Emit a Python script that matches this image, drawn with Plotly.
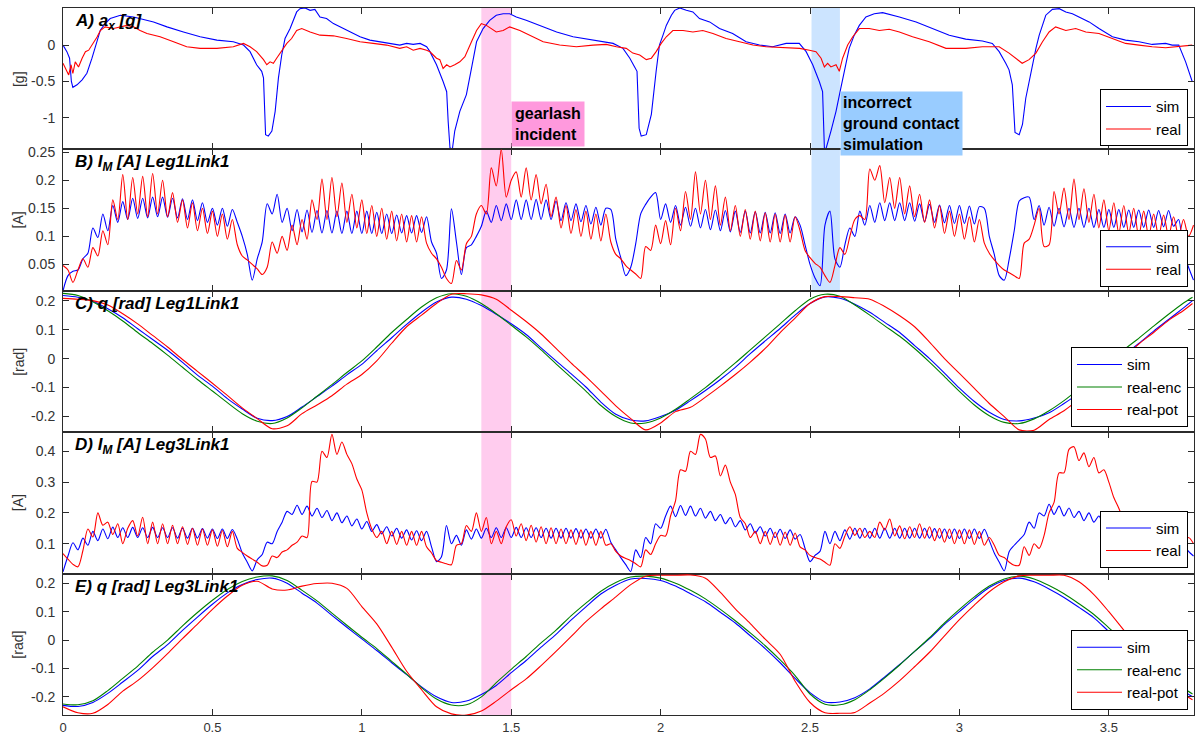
import numpy as np
import plotly.graph_objects as go
from plotly.subplots import make_subplots

# ---------------------------------------------------------------- time bases
FS_CURRENT = 60.0                                            # samples/s of the motor-current traces
T_ANGLE = [round(0.05 * i, 2) for i in range(76)] + [3.78]   # joint-angle sample times [s]

# ---------------------------------------------------------------- A) a_x [g]  (t, value)
AX_SIM = [
    (0, 0.0), (0.013, -0.09), (0.022, -0.18), (0.028, -0.5), (0.033, -0.58), (0.047, -0.545),
    (0.064, -0.477), (0.08, -0.386), (0.097, -0.18), (0.114, 0.045), (0.125, 0.205), (0.141, 0.295),
    (0.158, 0.364), (0.192, 0.41), (0.236, 0.386), (0.303, 0.318), (0.348, 0.25), (0.403, 0.18),
    (0.459, 0.114), (0.515, 0.068), (0.57, 0.045), (0.604, 0.0), (0.626, -0.09), (0.648, -0.27),
    (0.665, -0.36), (0.671, -0.45), (0.674, -0.82), (0.678, -1.23), (0.687, -1.25), (0.699, -1.18),
    (0.71, -0.91), (0.721, -0.45), (0.732, -0.136), (0.743, 0.09), (0.76, 0.227), (0.771, 0.34),
    (0.782, 0.455), (0.793, 0.5), (0.81, 0.51), (0.827, 0.477), (0.843, 0.49), (0.86, 0.386),
    (0.882, 0.364), (0.905, 0.295), (0.96, 0.18), (0.994, 0.114), (1.027, 0.068), (1.072, 0.036),
    (1.127, 0.0), (1.15, 0.023), (1.172, 0.01), (1.195, 0.023), (1.217, -0.023), (1.228, -0.09),
    (1.25, -0.27), (1.272, -0.5), (1.284, -0.64), (1.289, -1.05), (1.295, -1.41), (1.303, -1.43),
    (1.311, -1.18), (1.328, -0.91), (1.35, -0.68), (1.367, -0.32), (1.384, 0.045), (1.406, 0.227),
    (1.428, 0.34), (1.45, 0.41), (1.473, 0.43), (1.495, 0.43), (1.517, 0.386), (1.55, 0.34),
    (1.595, 0.27), (1.652, 0.18), (1.707, 0.114), (1.774, 0.068), (1.841, 0.023), (1.874, -0.045),
    (1.897, -0.18), (1.913, -0.3), (1.921, -0.36), (1.928, -1.14), (1.935, -1.25), (1.952, -1.23),
    (1.969, -0.95), (1.985, -0.36), (1.996, 0.0), (2.008, 0.136), (2.019, 0.27), (2.036, 0.41),
    (2.047, 0.477), (2.064, 0.51), (2.086, 0.477), (2.108, 0.455), (2.13, 0.364), (2.164, 0.318),
    (2.197, 0.227), (2.241, 0.16), (2.286, 0.045), (2.331, 0.0), (2.375, -0.023), (2.42, 0.023),
    (2.464, 0.023), (2.487, -0.09), (2.509, -0.27), (2.531, -0.5), (2.542, -0.64), (2.548, -1.41),
    (2.553, -1.43), (2.57, -1.18), (2.587, -0.91), (2.603, -0.59), (2.62, -0.27), (2.631, -0.045),
    (2.648, 0.136), (2.665, 0.27), (2.687, 0.386), (2.715, 0.43), (2.743, 0.445), (2.765, 0.418),
    (2.799, 0.386), (2.855, 0.318), (2.91, 0.227), (2.966, 0.136), (3.021, 0.082), (3.077, 0.055),
    (3.11, 0.023), (3.133, -0.09), (3.155, -0.25), (3.166, -0.34), (3.177, -0.545), (3.186, -1.2),
    (3.2, -1.23), (3.211, -1.09), (3.222, -0.73), (3.239, -0.36), (3.256, -0.045), (3.267, 0.136),
    (3.278, 0.27), (3.289, 0.41), (3.311, 0.49), (3.334, 0.5), (3.356, 0.455), (3.378, 0.43),
    (3.4, 0.386), (3.434, 0.318), (3.467, 0.227), (3.512, 0.114), (3.556, 0.068), (3.601, 0.045),
    (3.645, 0.009), (3.69, 0.023), (3.712, 0.0), (3.734, 0.0), (3.757, -0.23), (3.779, -0.5),
]
AX_REAL = [
    (0, -0.25), (0.013, -0.36), (0.019, -0.41), (0.027, -0.27), (0.033, -0.39), (0.041, -0.23),
    (0.052, -0.3), (0.064, -0.18), (0.075, -0.09), (0.086, -0.07), (0.097, 0.0), (0.114, 0.11),
    (0.125, 0.2), (0.141, 0.25), (0.169, 0.227), (0.192, 0.25), (0.214, 0.27), (0.236, 0.25),
    (0.258, 0.2), (0.281, 0.16), (0.325, 0.114), (0.37, 0.045), (0.414, -0.023), (0.459, -0.045),
    (0.515, -0.045), (0.57, -0.023), (0.604, 0.023), (0.626, -0.023), (0.648, -0.09), (0.671, -0.2),
    (0.682, -0.27), (0.693, -0.23), (0.704, -0.25), (0.715, -0.18), (0.726, -0.11), (0.737, -0.045),
    (0.749, 0.023), (0.765, 0.09), (0.782, 0.2), (0.799, 0.227), (0.827, 0.18), (0.86, 0.136),
    (0.905, 0.127), (0.949, 0.09), (0.994, 0.045), (1.038, 0.023), (1.083, 0.0), (1.127, -0.045),
    (1.15, -0.023), (1.172, -0.07), (1.195, -0.045), (1.217, -0.07), (1.228, -0.09), (1.239, -0.136),
    (1.25, -0.18), (1.261, -0.2), (1.272, -0.32), (1.284, -0.27), (1.295, -0.3), (1.311, -0.27),
    (1.328, -0.23), (1.345, -0.16), (1.356, -0.045), (1.367, 0.045), (1.384, 0.2), (1.4, 0.295),
    (1.417, 0.27), (1.434, 0.227), (1.45, 0.18), (1.473, 0.2), (1.495, 0.25), (1.529, 0.2),
    (1.562, 0.136), (1.607, 0.045), (1.662, 0.0), (1.718, -0.023), (1.774, 0.0), (1.818, 0.01),
    (1.852, -0.023), (1.885, -0.045), (1.907, -0.11), (1.93, -0.136), (1.952, -0.2), (1.969, -0.18),
    (1.985, -0.09), (2.002, 0.023), (2.019, 0.114), (2.041, 0.2), (2.075, 0.2), (2.108, 0.18),
    (2.141, 0.2), (2.175, 0.16), (2.219, 0.09), (2.264, 0.045), (2.309, 0.0), (2.353, -0.023),
    (2.409, -0.036), (2.465, -0.045), (2.498, -0.07), (2.52, -0.09), (2.537, -0.18), (2.548, -0.3),
    (2.559, -0.25), (2.57, -0.3), (2.587, -0.27), (2.598, -0.36), (2.609, -0.18), (2.626, 0.0),
    (2.643, 0.114), (2.665, 0.227), (2.698, 0.227), (2.732, 0.2), (2.765, 0.218), (2.799, 0.18),
    (2.843, 0.114), (2.899, 0.045), (2.955, -0.045), (3.021, -0.045), (3.077, -0.023), (3.133, -0.023),
    (3.166, -0.11), (3.188, -0.18), (3.21, -0.25), (3.233, -0.2), (3.256, -0.11), (3.278, 0.045),
    (3.3, 0.18), (3.322, 0.25), (3.356, 0.2), (3.389, 0.227), (3.423, 0.18), (3.467, 0.16),
    (3.512, 0.09), (3.556, 0.023), (3.601, 0.0), (3.645, -0.023), (3.69, -0.036), (3.734, -0.023),
    (3.779, 0.0),
]

# ---------------------------------------------------------------- B) I_M [A] Leg1Link1 (60 Hz samples)
IM1_SIM = [
    0.003, 0.03, 0.038, 0.04, 0.06, 0.07, 0.115, 0.098, 0.14, 0.11, 0.155, 0.125, 0.162, 0.13, 0.168,
    0.132, 0.168, 0.133, 0.17, 0.135, 0.17, 0.134, 0.168, 0.133, 0.167, 0.13, 0.165, 0.128, 0.16, 0.125,
    0.15, 0.12, 0.15, 0.118, 0.148, 0.125, 0.1, 0.068, 0.022, 0.06, 0.09, 0.158, 0.14, 0.175, 0.125,
    0.15, 0.11, 0.148, 0.108, 0.147, 0.107, 0.146, 0.106, 0.146, 0.106, 0.145, 0.105, 0.145, 0.105, 0.145,
    0.105, 0.145, 0.105, 0.143, 0.105, 0.14, 0.105, 0.138, 0.106, 0.137, 0.106, 0.137, 0.107, 0.135, 0.09,
    0.07, 0.025, 0.04, 0.149, 0.09, 0.032, 0.08, 0.085, 0.1, 0.118, 0.145, 0.125, 0.155, 0.128, 0.158,
    0.13, 0.165, 0.13, 0.165, 0.13, 0.166, 0.13, 0.165, 0.13, 0.163, 0.128, 0.16, 0.128, 0.158, 0.126,
    0.155, 0.122, 0.152, 0.12, 0.15, 0.148, 0.095, 0.062, 0.03, 0.045, 0.087, 0.14, 0.157, 0.17, 0.178,
    0.13, 0.158, 0.125, 0.155, 0.12, 0.152, 0.118, 0.15, 0.115, 0.148, 0.112, 0.147, 0.11, 0.146, 0.108,
    0.145, 0.107, 0.145, 0.106, 0.144, 0.106, 0.143, 0.106, 0.142, 0.105, 0.14, 0.106, 0.135, 0.12, 0.085,
    0.05, 0.026, 0.012, 0.12, 0.145, 0.06, 0.045, 0.085, 0.115, 0.1, 0.145, 0.12, 0.155, 0.125, 0.16,
    0.128, 0.16, 0.128, 0.16, 0.128, 0.16, 0.127, 0.158, 0.126, 0.157, 0.125, 0.156, 0.124, 0.155, 0.123,
    0.155, 0.123, 0.154, 0.122, 0.153, 0.15, 0.1, 0.068, 0.03, 0.022, 0.06, 0.11, 0.163, 0.169, 0.17,
    0.13, 0.155, 0.12, 0.152, 0.118, 0.15, 0.117, 0.15, 0.116, 0.15, 0.116, 0.15, 0.116, 0.148, 0.116,
    0.148, 0.116, 0.148, 0.116, 0.147, 0.116, 0.147, 0.116, 0.147, 0.116, 0.146, 0.117, 0.146, 0.118, 0.13,
    0.07, 0.045, 0.022,
]
IM1_REAL = [
    0.048, 0.04, 0.018, 0.04, 0.06, 0.045, 0.08, 0.065, 0.11, 0.085, 0.165, 0.13, 0.21, 0.13, 0.205,
    0.14, 0.207, 0.135, 0.212, 0.14, 0.2, 0.135, 0.178, 0.125, 0.165, 0.115, 0.16, 0.11, 0.15, 0.105,
    0.145, 0.1, 0.14, 0.095, 0.13, 0.085, 0.065, 0.058, 0.05, 0.042, 0.032, 0.045, 0.09, 0.07, 0.1,
    0.075, 0.12, 0.085, 0.13, 0.095, 0.165, 0.13, 0.202, 0.13, 0.205, 0.135, 0.195, 0.125, 0.175, 0.115,
    0.165, 0.105, 0.155, 0.1, 0.15, 0.095, 0.145, 0.092, 0.14, 0.09, 0.137, 0.09, 0.135, 0.088, 0.07,
    0.06, 0.045, 0.025, 0.016, 0.057, 0.04, 0.087, 0.1, 0.14, 0.155, 0.14, 0.222, 0.19, 0.255, 0.17,
    0.2, 0.215, 0.17, 0.222, 0.165, 0.21, 0.158, 0.193, 0.135, 0.17, 0.115, 0.155, 0.105, 0.148, 0.1,
    0.145, 0.095, 0.14, 0.092, 0.14, 0.09, 0.068, 0.06, 0.048, 0.04, 0.033, 0.025, 0.082, 0.075, 0.12,
    0.087, 0.128, 0.085, 0.15, 0.11, 0.18, 0.13, 0.215, 0.14, 0.2, 0.13, 0.19, 0.12, 0.17, 0.11,
    0.155, 0.1, 0.148, 0.095, 0.145, 0.092, 0.142, 0.09, 0.14, 0.09, 0.138, 0.09, 0.135, 0.11, 0.075,
    0.062, 0.052, 0.045, 0.03, 0.018, 0.048, 0.08, 0.068, 0.1, 0.13, 0.137, 0.13, 0.22, 0.2, 0.226,
    0.16, 0.205, 0.15, 0.205, 0.14, 0.19, 0.135, 0.175, 0.125, 0.165, 0.115, 0.155, 0.105, 0.145, 0.1,
    0.14, 0.095, 0.135, 0.09, 0.13, 0.088, 0.07, 0.058, 0.048, 0.04, 0.035, 0.03, 0.025, 0.088, 0.095,
    0.12, 0.15, 0.082, 0.085, 0.18, 0.14, 0.186, 0.13, 0.202, 0.13, 0.185, 0.125, 0.175, 0.115, 0.165,
    0.11, 0.16, 0.105, 0.155, 0.105, 0.15, 0.1, 0.145, 0.1, 0.14, 0.1, 0.138, 0.1, 0.135, 0.1,
    0.13, 0.1, 0.12,
]

# ---------------------------------------------------------------- C) q [rad] Leg1Link1
Q1_SIM = [
    0.218, 0.212, 0.198, 0.172, 0.141, 0.103, 0.066, 0.029, -0.013, -0.057,
    -0.095, -0.138, -0.174, -0.206, -0.214, -0.2, -0.167, -0.131, -0.095, -0.056,
    -0.02, 0.027, 0.072, 0.118, 0.16, 0.195, 0.212, 0.205, 0.183, 0.153,
    0.12, 0.083, 0.037, -0.008, -0.052, -0.098, -0.15, -0.192, -0.212, -0.215,
    -0.2, -0.178, -0.145, -0.11, -0.072, -0.03, 0.017, 0.061, 0.104, 0.15,
    0.19, 0.213, 0.208, 0.188, 0.16, 0.125, 0.09, 0.045, 0.0, -0.05,
    -0.102, -0.148, -0.185, -0.21, -0.215, -0.205, -0.187, -0.155, -0.12, -0.083,
    -0.04, 0.012, 0.052, 0.095, 0.135, 0.175, 0.2,
]
Q1_ENC = [
    0.225, 0.218, 0.196, 0.165, 0.13, 0.09, 0.052, 0.012, -0.03, -0.072,
    -0.112, -0.152, -0.19, -0.216, -0.224, -0.205, -0.17, -0.13, -0.09, -0.048,
    -0.008, 0.04, 0.09, 0.135, 0.178, 0.21, 0.224, 0.215, 0.19, 0.155,
    0.115, 0.075, 0.03, -0.018, -0.065, -0.112, -0.162, -0.2, -0.222, -0.222,
    -0.205, -0.175, -0.138, -0.1, -0.058, -0.015, 0.03, 0.075, 0.12, 0.165,
    0.205, 0.222, 0.215, 0.185, 0.15, 0.113, 0.077, 0.035, -0.012, -0.062,
    -0.113, -0.16, -0.197, -0.22, -0.224, -0.208, -0.18, -0.145, -0.105, -0.065,
    -0.02, 0.03, 0.07, 0.112, 0.153, 0.192, 0.212,
]
Q1_POT = [
    0.208, 0.205, 0.2, 0.185, 0.155, 0.12, 0.08, 0.04, -0.003, -0.044,
    -0.085, -0.127, -0.17, -0.207, -0.242, -0.232, -0.19, -0.16, -0.128, -0.088,
    -0.055, -0.008, 0.053, 0.11, 0.15, 0.19, 0.222, 0.224, 0.22, 0.205,
    0.167, 0.128, 0.085, 0.035, -0.015, -0.062, -0.112, -0.163, -0.207, -0.246,
    -0.222, -0.183, -0.168, -0.133, -0.095, -0.055, -0.012, 0.035, 0.09, 0.14,
    0.19, 0.214, 0.214, 0.21, 0.205, 0.18, 0.148, 0.11, 0.057, 0.0,
    -0.051, -0.103, -0.155, -0.2, -0.246, -0.247, -0.21, -0.18, -0.14, -0.095,
    -0.05, 0.003, 0.05, 0.09, 0.132, 0.166, 0.19,
]

# ---------------------------------------------------------------- D) I_M [A] Leg3Link1 (60 Hz samples)
IM3_SIM = [
    0.009, 0.06, 0.103, 0.08, 0.118, 0.095, 0.14, 0.11, 0.148, 0.116, 0.154, 0.12, 0.152, 0.12, 0.153,
    0.12, 0.152, 0.12, 0.153, 0.12, 0.152, 0.12, 0.152, 0.118, 0.15, 0.118, 0.15, 0.118, 0.149, 0.118,
    0.148, 0.117, 0.148, 0.117, 0.146, 0.115, 0.07, 0.04, 0.012, 0.048, 0.065, 0.105, 0.1, 0.14, 0.17,
    0.205, 0.195, 0.225, 0.195, 0.222, 0.19, 0.215, 0.185, 0.208, 0.175, 0.2, 0.168, 0.19, 0.158, 0.18,
    0.148, 0.172, 0.14, 0.162, 0.132, 0.155, 0.125, 0.15, 0.118, 0.145, 0.112, 0.142, 0.11, 0.14, 0.09,
    0.042, 0.058, 0.159, 0.1, 0.127, 0.095, 0.145, 0.115, 0.148, 0.118, 0.15, 0.12, 0.152, 0.12, 0.152,
    0.12, 0.153, 0.12, 0.152, 0.12, 0.152, 0.12, 0.15, 0.118, 0.15, 0.118, 0.15, 0.118, 0.149, 0.118,
    0.148, 0.118, 0.148, 0.118, 0.147, 0.105, 0.08, 0.055, 0.032, 0.01, 0.08, 0.055, 0.12, 0.1, 0.165,
    0.15, 0.19, 0.222, 0.188, 0.224, 0.192, 0.222, 0.19, 0.215, 0.183, 0.205, 0.175, 0.195, 0.165, 0.185,
    0.155, 0.175, 0.145, 0.165, 0.135, 0.155, 0.125, 0.15, 0.12, 0.147, 0.117, 0.145, 0.115, 0.13, 0.085,
    0.042, 0.062, 0.075, 0.14, 0.1, 0.14, 0.11, 0.145, 0.115, 0.15, 0.118, 0.15, 0.118, 0.15, 0.118,
    0.15, 0.118, 0.15, 0.118, 0.15, 0.118, 0.15, 0.118, 0.15, 0.118, 0.149, 0.118, 0.148, 0.117, 0.148,
    0.117, 0.148, 0.117, 0.148, 0.117, 0.147, 0.11, 0.07, 0.04, 0.012, 0.075, 0.095, 0.112, 0.13, 0.17,
    0.15, 0.2, 0.19, 0.228, 0.195, 0.222, 0.19, 0.216, 0.185, 0.205, 0.175, 0.2, 0.17, 0.19, 0.16,
    0.18, 0.15, 0.17, 0.14, 0.16, 0.13, 0.155, 0.125, 0.15, 0.12, 0.148, 0.118, 0.145, 0.115, 0.14,
    0.1, 0.075, 0.06,
]
IM3_REAL = [
    0.068, 0.05, 0.033, 0.025, 0.078, 0.148, 0.122, 0.2, 0.16, 0.17, 0.13, 0.165, 0.1, 0.15, 0.175,
    0.125, 0.186, 0.1, 0.17, 0.1, 0.165, 0.1, 0.16, 0.1, 0.155, 0.098, 0.15, 0.095, 0.148, 0.095,
    0.145, 0.092, 0.143, 0.09, 0.14, 0.085, 0.072, 0.06, 0.05, 0.04, 0.028, 0.03, 0.06, 0.055, 0.073,
    0.08, 0.095, 0.105, 0.125, 0.12, 0.302, 0.3, 0.4, 0.38, 0.455, 0.39, 0.43, 0.39, 0.36, 0.31,
    0.275, 0.2, 0.148, 0.12, 0.14, 0.1, 0.14, 0.098, 0.14, 0.095, 0.14, 0.095, 0.14, 0.09, 0.07,
    0.045, 0.04, 0.035, 0.032, 0.095, 0.1, 0.159, 0.14, 0.2, 0.14, 0.185, 0.1, 0.14, 0.1, 0.155,
    0.178, 0.125, 0.165, 0.11, 0.16, 0.105, 0.155, 0.1, 0.152, 0.1, 0.148, 0.1, 0.145, 0.098, 0.145,
    0.095, 0.14, 0.095, 0.14, 0.095, 0.1, 0.075, 0.06, 0.052, 0.045, 0.035, 0.025, 0.08, 0.065, 0.1,
    0.127, 0.125, 0.19, 0.24, 0.34, 0.335, 0.4, 0.39, 0.455, 0.44, 0.38, 0.385, 0.32, 0.355, 0.3,
    0.26, 0.185, 0.165, 0.12, 0.14, 0.1, 0.14, 0.098, 0.138, 0.095, 0.138, 0.095, 0.135, 0.09, 0.08,
    0.062, 0.055, 0.05, 0.04, 0.03, 0.1, 0.085, 0.125, 0.155, 0.127, 0.15, 0.12, 0.14, 0.12, 0.17,
    0.145, 0.18, 0.125, 0.158, 0.116, 0.155, 0.12, 0.165, 0.118, 0.155, 0.11, 0.15, 0.105, 0.148, 0.1,
    0.145, 0.1, 0.145, 0.098, 0.14, 0.095, 0.12, 0.095, 0.062, 0.055, 0.04, 0.03, 0.03, 0.09, 0.062,
    0.1, 0.085, 0.127, 0.2, 0.234, 0.33, 0.33, 0.406, 0.415, 0.37, 0.395, 0.35, 0.38, 0.33, 0.34,
    0.3, 0.25, 0.215, 0.175, 0.14, 0.125, 0.14, 0.1, 0.135, 0.1, 0.135, 0.098, 0.13, 0.098, 0.13,
    0.1, 0.12, 0.1,
]

# ---------------------------------------------------------------- E) q [rad] Leg3Link1
Q3_SIM = [
    -0.23, -0.234, -0.22, -0.188, -0.148, -0.107, -0.058, -0.016, 0.034, 0.081,
    0.126, 0.166, 0.196, 0.213, 0.218, 0.2, 0.165, 0.13, 0.087, 0.045,
    0.004, -0.037, -0.08, -0.122, -0.165, -0.2, -0.22, -0.215, -0.192, -0.16,
    -0.115, -0.072, -0.025, 0.02, 0.07, 0.117, 0.162, 0.193, 0.215, 0.217,
    0.21, 0.19, 0.163, 0.135, 0.098, 0.06, 0.015, -0.03, -0.08, -0.135,
    -0.185, -0.218, -0.218, -0.203, -0.172, -0.13, -0.086, -0.04, 0.005, 0.055,
    0.1, 0.145, 0.185, 0.21, 0.218, 0.205, 0.18, 0.15, 0.115, 0.078,
    0.03, -0.015, -0.06, -0.1, -0.14, -0.18, -0.2,
]
Q3_ENC = [
    -0.225, -0.228, -0.214, -0.178, -0.135, -0.092, -0.043, 0.0, 0.05, 0.097,
    0.14, 0.178, 0.206, 0.222, 0.226, 0.21, 0.175, 0.138, 0.095, 0.052,
    0.01, -0.03, -0.075, -0.12, -0.168, -0.208, -0.229, -0.228, -0.2, -0.15,
    -0.103, -0.058, -0.01, 0.035, 0.085, 0.13, 0.172, 0.203, 0.222, 0.225,
    0.218, 0.2, 0.175, 0.145, 0.108, 0.068, 0.025, -0.02, -0.07, -0.125,
    -0.19, -0.226, -0.228, -0.21, -0.175, -0.133, -0.088, -0.04, 0.008, 0.06,
    0.108, 0.152, 0.19, 0.215, 0.225, 0.215, 0.192, 0.163, 0.128, 0.09,
    0.043, -0.004, -0.05, -0.09, -0.13, -0.17, -0.19,
]
Q3_POT = [
    -0.235, -0.256, -0.258, -0.227, -0.18, -0.143, -0.098, -0.048, 0.005, 0.056,
    0.108, 0.155, 0.193, 0.207, 0.18, 0.176, 0.19, 0.199, 0.2, 0.182,
    0.118, 0.057, -0.025, -0.11, -0.175, -0.235, -0.26, -0.264, -0.25, -0.215,
    -0.175, -0.137, -0.09, -0.04, 0.012, 0.065, 0.11, 0.152, 0.195, 0.225,
    0.228, 0.228, 0.229, 0.218, 0.168, 0.11, 0.058, 0.003, -0.05, -0.145,
    -0.22, -0.256, -0.258, -0.255, -0.222, -0.186, -0.143, -0.094, -0.043, 0.015,
    0.072, 0.123, 0.17, 0.205, 0.226, 0.228, 0.228, 0.228, 0.205, 0.16,
    0.1, 0.035, -0.03, -0.09, -0.14, -0.19, -0.21,
]

# ---------------------------------------------------------------- axes / labels
X_RANGE = [0, 3.785]
X_TICKS = [0, 0.5, 1, 1.5, 2, 2.5, 3, 3.5]
X_TICKTEXT = ["0", "0.5", "1", "1.5", "2", "2.5", "3", "3.5"]

PANELS = [
    dict(title="<b><i>A) a<sub>x</sub> [g]</i></b>", unit="[g]", yrange=[-1.432, 0.509],
         ticks=[-1, -0.5, 0], ticktext=["-1", "-0.5", "0"]),
    dict(title="<b><i>B) I<sub>M</sub> [A] Leg1Link1</i></b>", unit="[A]", yrange=[0.003, 0.255],
         ticks=[0.05, 0.1, 0.15, 0.2, 0.25], ticktext=["0.05", "0.1", "0.15", "0.2", "0.25"]),
    dict(title="<b><i>C) q [rad] Leg1Link1</i></b>", unit="[rad]", yrange=[-0.254, 0.234],
         ticks=[-0.2, -0.1, 0, 0.1, 0.2], ticktext=["-0.2", "-0.1", "0", "0.1", "0.2"]),
    dict(title="<b><i>D) I<sub>M</sub> [A] Leg3Link1</i></b>", unit="[A]", yrange=[0.003, 0.462],
         ticks=[0.1, 0.2, 0.3, 0.4], ticktext=["0.1", "0.2", "0.3", "0.4"]),
    dict(title="<b><i>E) q [rad] Leg3Link1</i></b>", unit="[rad]", yrange=[-0.264, 0.234],
         ticks=[-0.2, -0.1, 0, 0.1, 0.2], ticktext=["-0.2", "-0.1", "0", "0.1", "0.2"]),
]

GEARLASH_SPAN = [1.40, 1.50]
CONTACT_SPAN = [2.505, 2.60]

# ---------------------------------------------------------------- style
FONT = "Liberation Sans, Arial, sans-serif"
BLUE, RED, GREEN = "#0000ff", "#ff0000", "#008000"
FRAME = "#2b2b2b"
TICK_FONT = dict(family=FONT, size=14, color="#333333")

fig = make_subplots(rows=5, cols=1, shared_xaxes=True, vertical_spacing=0)


def add_line(row, x, y, name, color, legend, shape="linear"):
    fig.add_trace(
        go.Scatter(x=x, y=y, mode="lines", name=name,
                   line=dict(color=color, width=1.1, shape=shape, smoothing=0.8),
                   legend=legend, legendgroup=f"{legend}-{name}",
                   hoverinfo="skip"),
        row=row, col=1,
    )


t_cur1 = np.arange(len(IM1_SIM)) / FS_CURRENT
t_cur1r = np.arange(len(IM1_REAL)) / FS_CURRENT
t_cur3 = np.arange(len(IM3_SIM)) / FS_CURRENT
t_cur3r = np.arange(len(IM3_REAL)) / FS_CURRENT

add_line(1, [p[0] for p in AX_SIM], [p[1] for p in AX_SIM], "sim", BLUE, "legend")
add_line(1, [p[0] for p in AX_REAL], [p[1] for p in AX_REAL], "real", RED, "legend")

add_line(2, t_cur1, IM1_SIM, "sim", BLUE, "legend2", "spline")
add_line(2, t_cur1r, IM1_REAL, "real", RED, "legend2", "spline")

add_line(3, T_ANGLE, Q1_SIM, "sim", BLUE, "legend3", "spline")
add_line(3, T_ANGLE, Q1_ENC, "real-enc", GREEN, "legend3", "spline")
add_line(3, T_ANGLE, Q1_POT, "real-pot", RED, "legend3", "spline")

add_line(4, t_cur3, IM3_SIM, "sim", BLUE, "legend4", "spline")
add_line(4, t_cur3r, IM3_REAL, "real", RED, "legend4", "spline")

add_line(5, T_ANGLE, Q3_SIM, "sim", BLUE, "legend5", "spline")
add_line(5, T_ANGLE, Q3_ENC, "real-enc", GREEN, "legend5", "spline")
add_line(5, T_ANGLE, Q3_POT, "real-pot", RED, "legend5", "spline")

# axes
for i, p in enumerate(PANELS, start=1):
    fig.update_xaxes(
        row=i, col=1, range=X_RANGE, tickvals=X_TICKS, ticktext=X_TICKTEXT,
        ticks="inside", ticklen=6, tickcolor=FRAME, mirror="ticks",
        showline=True, linecolor=FRAME, linewidth=1, showgrid=False, zeroline=False,
        tickfont=dict(family=FONT, size=13, color="#333333"),
        showticklabels=(i == 5),
    )
    fig.update_yaxes(
        row=i, col=1, range=p["yrange"], tickvals=p["ticks"], ticktext=p["ticktext"],
        ticks="inside", ticklen=6, tickcolor=FRAME, mirror="ticks",
        showline=True, linecolor=FRAME, linewidth=1, showgrid=False, zeroline=False,
        tickfont=TICK_FONT, ticklabelstandoff=4,
    )

# event bands
fig.add_shape(type="rect", xref="x5", yref="paper", x0=GEARLASH_SPAN[0], x1=GEARLASH_SPAN[1],
              y0=0, y1=1, fillcolor="rgb(255,204,238)", line=dict(width=0), layer="below")
fig.add_shape(type="rect", xref="x5", yref="paper", x0=CONTACT_SPAN[0], x1=CONTACT_SPAN[1],
              y0=0.6, y1=1, fillcolor="rgb(204,228,255)", line=dict(width=0), layer="below")

annotations = []
for i, p in enumerate(PANELS, start=1):
    sx = "" if i == 1 else str(i)
    annotations.append(dict(
        text=p["title"], xref=f"x{sx} domain", yref=f"y{sx} domain", x=0.009, y=1,
        xanchor="left", yanchor="top", yshift=-1, showarrow=False,
        font=dict(family=FONT, size=17, color="#000000"),
    ))
    y0 = (5 - i) / 5
    annotations.append(dict(
        text=p["unit"], xref="paper", yref="paper", x=-0.0395, y=y0 + 0.1,
        xanchor="center", yanchor="middle", textangle=-90, showarrow=False,
        font=dict(family=FONT, size=14, color="#333333"),
    ))

annotations.append(dict(
    text="<b>gearlash<br>incident</b>", xref="x", yref="paper", x=GEARLASH_SPAN[1], y=0.868,
    xanchor="left", yanchor="top", align="left", showarrow=False,
    bgcolor="rgb(255,153,221)", borderpad=3,
    font=dict(family=FONT, size=16, color="#000000"),
))
annotations.append(dict(
    text="<b>incorrect<br>ground contact<br>simulation</b>", xref="x", yref="paper",
    x=CONTACT_SPAN[1], y=0.883, xanchor="left", yanchor="top", align="left", showarrow=False,
    bgcolor="rgb(153,204,255)", borderpad=2,
    font=dict(family=FONT, size=16, color="#000000"),
))


def legend_box(y_bottom):
    return dict(
        x=0.9947, xanchor="right", y=y_bottom, yanchor="bottom",
        bgcolor="white", bordercolor="#000000", borderwidth=1,
        font=dict(family=FONT, size=15, color="#000000"),
        traceorder="grouped", tracegroupgap=0, itemwidth=45,
    )


fig.update_layout(
    width=1198, height=743,
    margin=dict(l=63, r=3, t=3, b=28),
    paper_bgcolor="white", plot_bgcolor="white",
    annotations=annotations,
    legend=legend_box(0.8045),
    legend2=legend_box(0.606),
    legend3=legend_box(0.4071),
    legend4=legend_box(0.2082),
    legend5=legend_box(0.007),
    font=dict(family=FONT),
)

fig.write_html("out.html")
